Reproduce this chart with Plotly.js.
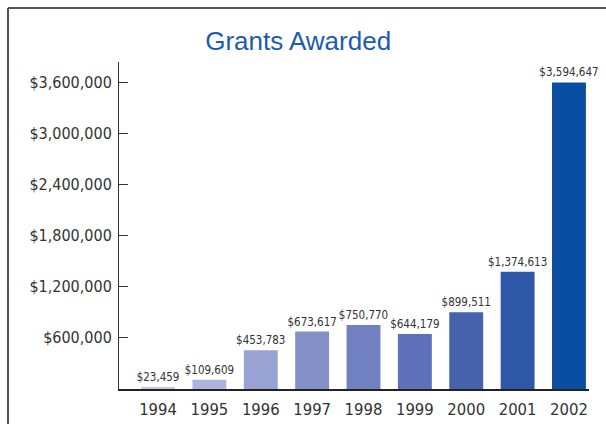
<!DOCTYPE html>
<html>
<head>
<meta charset="utf-8">
<script src="https://cdn.plot.ly/plotly-3.0.1.min.js"></script>
<style>
  html, body { margin: 0; padding: 0; background: #fff; }
  #chart { width: 606px; height: 424px; }
</style>
</head>
<body>
<div id="chart"></div>
<script>
var years = ['1994', '1995', '1996', '1997', '1998', '1999', '2000', '2001', '2002'];
var grants = [23459, 109609, 453783, 673617, 750770, 644179, 899511, 1374613, 3594647];
var barLabels = ['$23,459', '$109,609', '$453,783', '$673,617', '$750,770', '$644,179', '$899,511', '$1,374,613', '$3,594,647'];
var barColors = ['#c3c8e6', '#adb5de', '#98a3d3', '#8490c8', '#7080c0', '#5d70b8', '#4762ad', '#2f57a8', '#0a4ea2'];
var yTickVals = [600000, 1200000, 1800000, 2400000, 3000000, 3600000];
var yTickText = ['$600,000', '$1,200,000', '$1,800,000', '$2,400,000', '$3,000,000', '$3,600,000'];

var condensed = '"Liberation Sans Narrow", "DejaVu Sans Condensed", "Arial Narrow", sans-serif';

var trace = {
  type: 'bar',
  x: years,
  y: grants,
  text: barLabels,
  textposition: 'outside',
  constraintext: 'none',
  cliponaxis: false,
  textfont: { family: condensed, size: 11.5, color: '#333333' },
  marker: { color: barColors, line: { width: 0 } },
  width: 0.66,
  hoverinfo: 'x+y'
};

var layout = {
  width: 606,
  height: 424,
  margin: { l: 119, r: 17, t: 62, b: 35, pad: 0 },
  paper_bgcolor: '#ffffff',
  plot_bgcolor: '#ffffff',
  showlegend: false,
  title: {
    text: 'Grants Awarded',
    font: { family: '"Liberation Sans", Arial, sans-serif', size: 26, color: '#1a5cb0' },
    x: 0.492, xanchor: 'center', xref: 'container',
    y: 1, yanchor: 'top', yref: 'container', pad: { t: 32 }
  },
  xaxis: {
    type: 'category',
    range: [-0.76, 8.39],
    showline: true, linecolor: '#222222', linewidth: 1.5,
    ticks: '', showgrid: false, zeroline: false,
    tickfont: { family: condensed, size: 16.5, color: '#333333' },
    ticklabelstandoff: 5
  },
  yaxis: {
    range: [0, 3835000],
    showline: true, linecolor: '#333333', linewidth: 1,
    ticks: 'inside', ticklen: 9, tickwidth: 1, tickcolor: '#333333',
    tickvals: yTickVals, ticktext: yTickText,
    showgrid: false, zeroline: false,
    tickfont: { family: condensed, size: 16, color: '#333333' },
    ticklabelstandoff: 3
  },
  shapes: [
    { type: 'line', xref: 'paper', yref: 'paper',
      x0: (8 - 119) / 470, x1: (8 - 119) / 470, y0: 1 + (62 - 8) / 327, y1: -0.2,
      line: { color: '#555555', width: 2 } },
    { type: 'line', xref: 'paper', yref: 'paper',
      x0: (8 - 119) / 470, x1: 1.05, y0: 1 + (62 - 8) / 327, y1: 1 + (62 - 8) / 327,
      line: { color: '#555555', width: 2 } }
  ]
};

Plotly.newPlot('chart', [trace], layout, { displayModeBar: false, staticPlot: true });
</script>
</body>
</html>
